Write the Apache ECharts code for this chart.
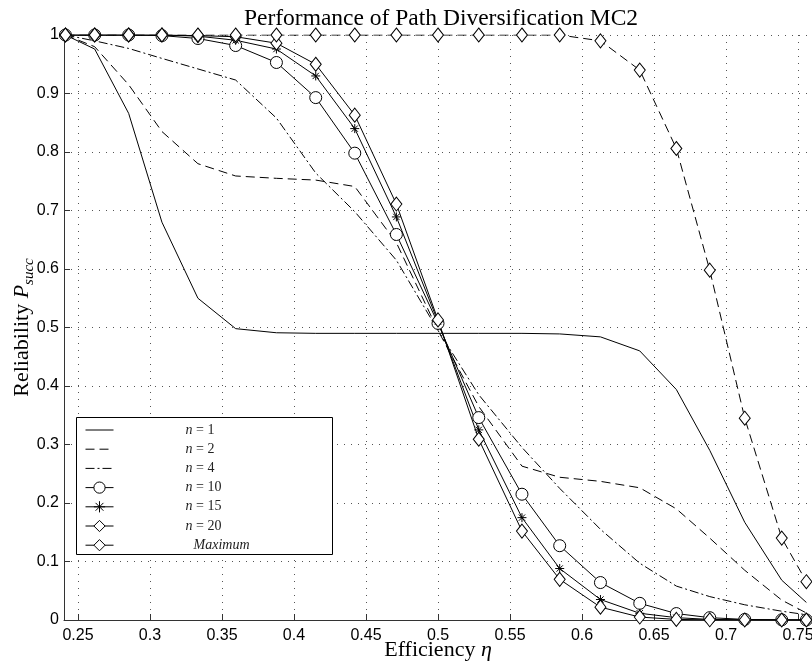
<!DOCTYPE html>
<html>
<head>
<meta charset="utf-8">
<script src="https://cdn.jsdelivr.net/npm/echarts@6/dist/echarts.min.js"></script>
<style>
  html, body { margin: 0; padding: 0; background: #fff; }
  #chart { width: 812px; height: 665px; }
</style>
</head>
<body>
<div id="chart"></div>
<script>
// efficiency values (x) shared by every curve
const effX = [0.2413, 0.2616, 0.2852, 0.3083, 0.3333, 0.3595, 0.3878, 0.4151, 0.4422, 0.4711, 0.5,
              0.5283, 0.5583, 0.5845, 0.6128, 0.6401, 0.6655, 0.6887, 0.7130, 0.7387, 0.7558];
const xTicks = [0.25, 0.3, 0.35, 0.4, 0.45, 0.5, 0.55, 0.6, 0.65, 0.7, 0.75];

const seriesNames = ['n = 1', 'n = 2', 'n = 4', 'n = 10', 'n = 15', 'n = 20', 'Maximum'];
const yN1  = [1.0, 0.976, 0.866, 0.68, 0.55, 0.498, 0.491, 0.49, 0.49, 0.49, 0.49,
              0.49, 0.49, 0.489, 0.484, 0.46, 0.394, 0.29, 0.167, 0.068, 0.03];
const yN2  = [1.0, 0.98, 0.915, 0.835, 0.78, 0.759, 0.755, 0.752, 0.741, 0.645, 0.495,
              0.365, 0.263, 0.244, 0.237, 0.226, 0.19, 0.14, 0.085, 0.034, 0.012];
const yN4  = [1.0, 0.99, 0.977, 0.96, 0.942, 0.923, 0.858, 0.764, 0.698, 0.615, 0.495,
              0.385, 0.295, 0.225, 0.155, 0.097, 0.058, 0.04, 0.026, 0.015, 0.009];
const yN10 = [1.0, 1.0, 1.0, 0.999, 0.994, 0.982, 0.953, 0.893, 0.798, 0.659, 0.507,
              0.346, 0.215, 0.127, 0.064, 0.0285, 0.011, 0.004, 0.001, 0.0003, 0.0001];
const yN15 = [1.0, 1.0, 1.0, 1.0, 0.998, 0.991, 0.976, 0.930, 0.840, 0.689, 0.510,
              0.325, 0.175, 0.088, 0.035, 0.0115, 0.004, 0.001, 0.0003, 0.0001, 0];
const yN20 = [1.0, 1.0, 1.0, 1.0, 0.999, 0.997, 0.986, 0.950, 0.863, 0.711, 0.513,
              0.309, 0.152, 0.0695, 0.022, 0.005, 0.001, 0.0003, 0.0001, 0, 0];
const yMax = [1, 1, 1, 1, 1, 1, 1, 1, 1, 1, 1,
              1, 1, 1, 0.99, 0.94, 0.806, 0.598, 0.345, 0.14, 0.0655];

var myChart = echarts.init(document.getElementById('chart'));

function pts(ys) {
    return effX.map(function (x, i) { return [x, ys[i]]; });
}

var serif = "'Liberation Serif', 'Times New Roman', serif";
var sans = "'Liberation Sans', Arial, sans-serif";
var asterisk = 'path://M5,0L5,10M0,5L10,5M1.5,1.5L8.5,8.5M1.5,8.5L8.5,1.5';

// hollow markers, thin black outline
var hollow = { color: '#fff', borderColor: '#000', borderWidth: 1 };
// lines with no markers: hide the legend's marker too
var noMark = { color: '#000', opacity: 0 };

function line(name, ys, dash, symbol, size, itemStyle) {
    return {
        name: name,
        type: 'line',
        data: pts(ys),
        symbol: symbol || 'none',
        symbolSize: size || 0,
        showAllSymbol: true,
        lineStyle: { color: '#000', width: 1, type: dash || 'solid' },
        itemStyle: itemStyle || noMark,
        z: 3
    };
}

var option = {
    animation: false,
    backgroundColor: '#fff',
    title: {
        text: 'Performance of Path Diversification MC2',
        left: 436,
        textAlign: 'center',
        top: 2,
        textStyle: { fontFamily: serif, fontWeight: 'normal', fontSize: 23.5, color: '#000' }
    },
    grid: { left: 64, right: 0, top: 35, bottom: 45, outerBoundsMode: 'none', containLabel: false },
    xAxis: {
        type: 'value',
        min: 0.2403,
        max: 0.7597,
        name: '{n|Efficiency }{i|η}',
        nameLocation: 'middle',
        nameGap: 19,
        nameMoveOverlap: false,
        nameTextStyle: {
            rich: {
                n: { fontFamily: serif, fontSize: 22, color: '#000' },
                i: { fontFamily: serif, fontSize: 22, fontStyle: 'italic', color: '#000' }
            }
        },
        axisLine: { lineStyle: { color: '#333', width: 1 } },
        axisTick: { inside: true, length: 6, customValues: xTicks, lineStyle: { color: '#333' } },
        axisLabel: {
            customValues: xTicks,
            margin: 8,
            fontFamily: sans, fontSize: 16, color: '#000',
            formatter: function (v) { return String(+v.toFixed(2)); }
        },
        splitLine: { show: true, lineStyle: { color: '#555', width: 1, type: [1, 6] } }
    },
    yAxis: {
        type: 'value',
        min: 0,
        max: 1,
        interval: 0.1,
        name: '{n|Reliability }{i|P}{s|succ}',
        nameLocation: 'middle',
        nameGap: 31,
        nameMoveOverlap: false,
        nameTextStyle: {
            rich: {
                n: { fontFamily: serif, fontSize: 22, color: '#000', lineHeight: 22, verticalAlign: 'top' },
                i: { fontFamily: serif, fontSize: 22, fontStyle: 'italic', color: '#000', lineHeight: 22, verticalAlign: 'top' },
                s: { fontFamily: serif, fontSize: 15, fontStyle: 'italic', color: '#000', lineHeight: 15, padding: [11, 0, 0, 0], verticalAlign: 'top' }
            }
        },
        axisLine: { show: true, lineStyle: { color: '#333', width: 1 } },
        axisTick: { inside: true, length: 6, lineStyle: { color: '#333' } },
        axisLabel: { margin: 5, fontFamily: sans, fontSize: 16, color: '#000' },
        splitLine: { show: true, lineStyle: { color: '#555', width: 1, type: [1, 6] } }
    },
    graphic: [{
        type: 'rect',
        shape: { x: 76.5, y: 417.5, width: 256, height: 137 },
        style: { fill: '#fff', stroke: '#000', lineWidth: 1 },
        z: 50
    }],
    legend: {
        orient: 'vertical',
        left: 85,
        top: 423,
        padding: 0,
        itemGap: 5.2,
        itemWidth: 28,
        itemHeight: 14,
        z: 60,
        lineStyle: { width: 1 },
        itemStyle: { borderWidth: 1 },
        data: seriesNames.map(function (n) {
            return n === 'Maximum' ? { name: n, lineStyle: { type: 'solid' } } : { name: n };
        }),
        formatter: function (name) {
            if (name === 'Maximum') return '{m|Maximum}';
            return '{i|n}{u|' + name.slice(1) + '}';
        },
        textStyle: {
            rich: {
                i: { fontFamily: serif, fontSize: 14, fontStyle: 'italic', color: '#222', padding: [0, 0, 0, 67] },
                u: { fontFamily: serif, fontSize: 14, color: '#222' },
                m: { fontFamily: serif, fontSize: 14, fontStyle: 'italic', color: '#222', padding: [0, 0, 0, 75] }
            }
        }
    },
    series: [
        line('n = 1', yN1),
        line('n = 2', yN2, [9, 5]),
        line('n = 4', yN4, [9, 3, 2, 3]),
        line('n = 10', yN10, 'solid', 'circle', 12, hollow),
        line('n = 15', yN15, 'solid', asterisk, 9, { color: '#000', borderColor: '#000', borderWidth: 1 }),
        line('n = 20', yN20, 'solid', 'diamond', [11, 14], hollow),
        line('Maximum', yMax, [9, 5], 'diamond', [11, 14], hollow)
    ]
};

myChart.setOption(option);
</script>
</body>
</html>
